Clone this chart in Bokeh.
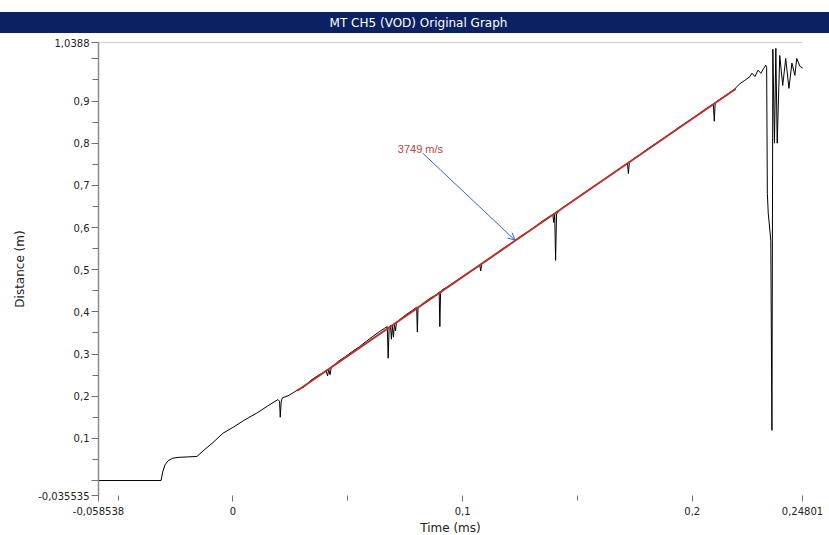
from bokeh.plotting import figure
from bokeh.models import FixedTicker, Range1d, Label, Arrow, OpenHead, Span, Title
from bokeh.embed import file_html
from bokeh.resources import INLINE

# ---------------- data ----------------
TITLE = "MT CH5 (VOD) Original Graph"
X_LABEL = "Time (ms)"
Y_LABEL = "Distance (m)"

X_MIN, X_MAX = -0.058538, 0.24801
Y_MIN, Y_MAX = -0.035535, 1.0388

X_TICKS = [-0.058538, 0.0, 0.1, 0.2, 0.24801]
X_TICK_LABELS = ["-0,058538", "0", "0,1", "0,2", "0,24801"]
X_MINOR = [-0.05, 0.05, 0.15]

Y_TICKS = [-0.035535, 0.0, 0.1, 0.2, 0.3, 0.4, 0.5, 0.6, 0.7, 0.8, 0.9, 1.0, 1.0388]
Y_TICK_LABELS = ["-0,035535", "", "0,1", "0,2", "0,3", "0,4", "0,5", "0,6",
                 "0,7", "0,8", "0,9", "", "1,0388"]
Y_MINOR = [0.05, 0.15, 0.25, 0.35, 0.45, 0.55, 0.65, 0.75, 0.85, 0.95]

# measured trace (time ms, distance m)
time_ms = [
    -0.0585, -0.0313, -0.0306, -0.0296, -0.0282, -0.0262, -0.0235, -0.0195, -0.0157,
    -0.0122, -0.0087, -0.0044, 0.0000, 0.0052, 0.0104, 0.0152, 0.0196, 0.0203, 0.0206,
    0.0210, 0.0215, 0.0240, 0.0265, 0.0285, 0.031, 0.034, 0.037, 0.0395, 0.0405,
    0.0412, 0.0417, 0.0423, 0.0428, 0.046, 0.049, 0.052, 0.055, 0.058, 0.061, 0.064,
    0.066, 0.0672, 0.0676, 0.0680, 0.0686, 0.0690, 0.0694, 0.0699, 0.0703, 0.0708,
    0.0712, 0.075, 0.078, 0.0800, 0.0803, 0.0806, 0.083, 0.086, 0.0885, 0.0898,
    0.0901, 0.0904, 0.0910, 0.093, 0.096, 0.099, 0.102, 0.105, 0.1075, 0.1079,
    0.1083, 0.111, 0.114, 0.117, 0.120, 0.123, 0.126, 0.129, 0.132, 0.135, 0.138,
    0.1393, 0.1397, 0.1401, 0.1405, 0.1409, 0.143, 0.146, 0.149, 0.152, 0.155,
    0.158, 0.161, 0.164, 0.167, 0.170, 0.1718, 0.1722, 0.1726, 0.175, 0.178, 0.181,
    0.184, 0.187, 0.190, 0.193, 0.196, 0.199, 0.202, 0.205, 0.208, 0.2092, 0.2096,
    0.2100, 0.212, 0.215, 0.218, 0.2207, 0.2229, 0.2251, 0.2260, 0.2273, 0.2286,
    0.2299, 0.2312, 0.2320, 0.2324, 0.2327, 0.2331, 0.2342, 0.2347, 0.2351, 0.2358,
    0.2364, 0.2370, 0.2381, 0.2394, 0.2407, 0.2421, 0.2434, 0.2447, 0.2455, 0.2469,
    0.2482,
]
distance_m = [
    0.000, 0.000, 0.020, 0.037, 0.047, 0.053, 0.055, 0.056, 0.057,
    0.074, 0.090, 0.112, 0.126, 0.144, 0.160, 0.177, 0.192, 0.188, 0.150,
    0.186, 0.196, 0.201, 0.209, 0.216, 0.222, 0.238, 0.249, 0.256, 0.262,
    0.248, 0.263, 0.251, 0.268, 0.283, 0.294, 0.306, 0.317, 0.330, 0.342, 0.354,
    0.361, 0.365, 0.290, 0.360, 0.368, 0.335, 0.366, 0.340, 0.370, 0.355,
    0.375, 0.392, 0.403, 0.411, 0.352, 0.410, 0.421, 0.433, 0.440, 0.447,
    0.365, 0.443, 0.452, 0.458, 0.469, 0.480, 0.491, 0.501, 0.510, 0.497,
    0.514, 0.523, 0.535, 0.548, 0.558, 0.570, 0.582, 0.592, 0.604, 0.616, 0.627,
    0.630, 0.612, 0.634, 0.522, 0.632, 0.645, 0.656, 0.667, 0.679, 0.690,
    0.701, 0.712, 0.723, 0.735, 0.746, 0.752, 0.728, 0.754, 0.765, 0.776, 0.788,
    0.799, 0.810, 0.821, 0.833, 0.844, 0.855, 0.866, 0.878, 0.889, 0.893, 0.852,
    0.896, 0.904, 0.915, 0.926, 0.941, 0.949, 0.958, 0.966, 0.958, 0.973,
    0.966, 0.978, 0.985, 0.980, 0.681, 0.634, 0.570, 0.119, 1.023, 0.800,
    1.025, 0.800, 1.008, 0.937, 1.001, 0.930, 0.990, 0.961, 1.001, 0.982,
    0.978,
]

# linear fit (VOD)
fit_time = [0.028, 0.219]
fit_distance = [0.213, 0.929]
fit_label = "3749 m/s"
label_pos = (0.0718, 0.787)
arrow_start = (0.0827, 0.776)
arrow_end = (0.1228, 0.570)

# ---------------- figure ----------------
FONT = "DejaVu Sans"
p = figure(width=829, height=535, output_backend="svg", toolbar_location=None,
           x_range=Range1d(X_MIN, X_MAX), y_range=Range1d(Y_MIN, Y_MAX),
           min_border_left=98, min_border_right=27, min_border_top=42,
           min_border_bottom=40, background_fill_color="white",
           border_fill_color="white")
p.outline_line_color = None
p.grid.visible = False

p.title = Title(text=TITLE, align="center", text_color="white",
                text_font=FONT, text_font_size="12px", text_font_style="normal",
                background_fill_color="#0b2262", standoff=19,
                padding=dict(left=400, right=464, top=4, bottom=3))

# x axis
xa = p.xaxis[0]
xa.ticker = FixedTicker(ticks=X_TICKS, minor_ticks=X_MINOR)
xa.major_label_overrides = {t: s for t, s in zip(X_TICKS, X_TICK_LABELS)}
xa.axis_line_color = None
xa.major_tick_line_color = "#707070"
xa.minor_tick_line_color = "#707070"
xa.major_tick_in = 0
xa.major_tick_out = 6
xa.minor_tick_in = 0
xa.minor_tick_out = 5
xa.major_label_standoff = 5
xa.major_label_text_font = FONT
xa.major_label_text_font_size = "10px"
xa.major_label_text_color = "#222222"

# x axis title placed in the panel below the axis
p.add_layout(Title(text=X_LABEL, align="center", text_font=FONT,
                   text_font_size="12px", text_font_style="normal",
                   text_color="#222222", standoff=2), "below")

# y axis
ya = p.yaxis[0]
ya.ticker = FixedTicker(ticks=Y_TICKS, minor_ticks=Y_MINOR)
ya.major_label_overrides = {t: s for t, s in zip(Y_TICKS, Y_TICK_LABELS)}
ya.axis_line_color = "#8c8c8c"
ya.axis_line_width = 1.5
ya.major_tick_line_color = "#707070"
ya.minor_tick_line_color = "#707070"
ya.major_tick_in = 0
ya.major_tick_out = 7
ya.minor_tick_in = 0
ya.minor_tick_out = 6
ya.major_label_standoff = 2
ya.major_label_text_font = FONT
ya.major_label_text_font_size = "10px"
ya.major_label_text_color = "#222222"
ya.axis_label = Y_LABEL
ya.axis_label_text_font = FONT
ya.axis_label_text_font_size = "12px"
ya.axis_label_text_font_style = "normal"
ya.axis_label_text_color = "#222222"
ya.axis_label_standoff = 8

# top frame line
p.add_layout(Span(location=Y_MAX, dimension="width", line_color="#a0a0a0",
                  line_width=1))

# data
p.line(time_ms, distance_m, line_color="black", line_width=1)
p.line(fit_time, fit_distance, line_color="#b8302c", line_width=2)

p.add_layout(Arrow(end=OpenHead(size=7, line_color="#2f62e4", line_width=1),
                   x_start=arrow_start[0], y_start=arrow_start[1],
                   x_end=arrow_end[0], y_end=arrow_end[1],
                   line_color="#2f62e4", line_width=1))
p.add_layout(Label(x=label_pos[0], y=label_pos[1], text=fit_label,
                   text_font="Liberation Sans", text_font_size="11px",
                   text_color="#b5443c", text_baseline="middle", text_align="left"))

open("out.html", "w").write(file_html(p, INLINE))
